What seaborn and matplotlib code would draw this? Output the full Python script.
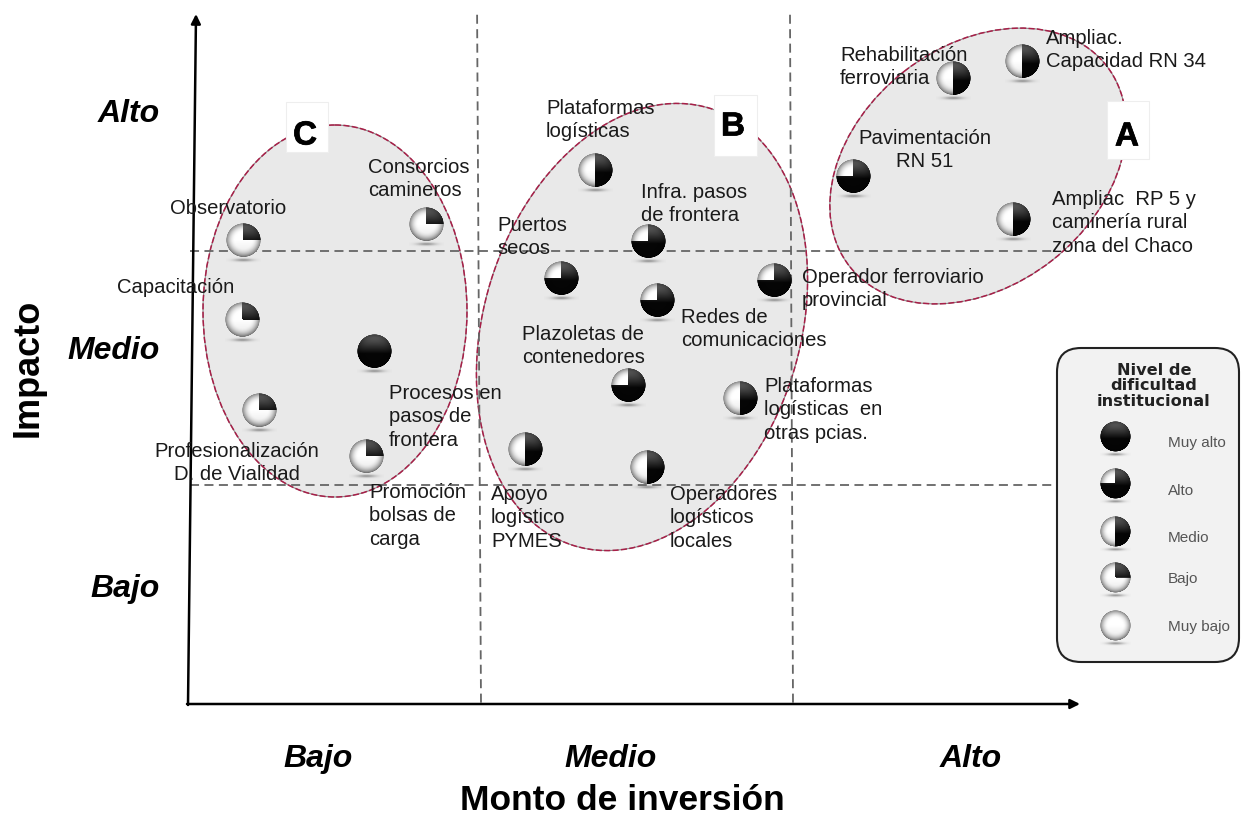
import numpy as np
import pandas as pd
import matplotlib
matplotlib.use("Agg")
import matplotlib.pyplot as plt
import matplotlib.patheffects as pe
import seaborn as sns
from matplotlib.patches import Ellipse, FancyBboxPatch, Rectangle
from matplotlib.offsetbox import OffsetImage, AnnotationBbox

# ---------- data ----------
proyectos = ["Rehabilitación ferroviaria", "Ampliac. Capacidad RN 34", "Pavimentación RN 51",
             "Ampliac RP 5 y caminería rural zona del Chaco", "Consorcios camineros", "Observatorio",
             "Capacitación", "Procesos en pasos de frontera", "Profesionalización D. de Vialidad",
             "Promoción bolsas de carga", "Plataformas logísticas", "Infra. pasos de frontera",
             "Puertos secos", "Redes de comunicaciones", "Operador ferroviario provincial",
             "Plazoletas de contenedores", "Plataformas logísticas en otras pcias.",
             "Apoyo logístico PYMES", "Operadores logísticos locales"]
inversion = [2.543, 2.773, 2.21, 2.743, 0.787, 0.177, 0.173, 0.613, 0.23, 0.587,
             1.35, 1.527, 1.237, 1.557, 1.947, 1.46, 1.833, 1.117, 1.523]
impacto = [2.782, 2.858, 2.347, 2.156, 2.133, 2.062, 1.707, 1.569, 1.307, 1.102,
           2.373, 2.058, 1.893, 1.796, 1.884, 1.418, 1.36, 1.133, 1.053]
dificultad = ["Medio", "Medio", "Alto", "Medio", "Bajo", "Bajo", "Bajo", "Muy alto", "Bajo", "Bajo",
              "Medio", "Alto", "Alto", "Alto", "Alto", "Alto", "Medio", "Medio", "Medio"]
niveles = ["Muy alto", "Alto", "Medio", "Bajo", "Muy bajo"]
fraccion_oscura = [1.0, 0.75, 0.5, 0.25, 0.0]
niveles_eje_x = ["Bajo", "Medio", "Alto"]
centros_x = [0.427, 1.403, 2.603]
niveles_eje_y = ["Bajo", "Medio", "Alto"]
centros_y = [0.529, 1.587, 2.644]
cortes_y = [0.973, 2.013]

# ---------- layout (pixels of the 1242x820 canvas) ----------
etiquetas = [
    ("Rehabilitación\nferroviaria", 840, 67, "left"),
    ("Ampliac.\nCapacidad RN 34", 1046, 50, "left"),
    ("Pavimentación\nRN 51", 925, 150, "center"),
    ("Ampliac  RP 5 y\ncaminería rural\nzona del Chaco", 1052, 223, "left"),
    ("Consorcios\ncamineros", 368, 179, "left"),
    ("Observatorio", 170, 209, "left"),
    ("Capacitación", 117, 288, "left"),
    ("Procesos en\npasos de\nfrontera", 389, 417, "left"),
    ("Profesionalización\nD. de Vialidad", 237, 463, "center"),
    ("Promoción\nbolsas de\ncarga", 369, 516, "left"),
    ("Plataformas\nlogísticas", 546, 120, "left"),
    ("Infra. pasos\nde frontera", 641, 204, "left"),
    ("Puertos\nsecos", 497, 237, "left"),
    ("Redes de\ncomunicaciones", 681, 329, "left"),
    ("Operador ferroviario\nprovincial", 802, 289, "left"),
    ("Plazoletas de\ncontenedores", 522, 346, "left"),
    ("Plataformas\nlogísticas  en\notras pcias.", 764, 410, "left"),
    ("Apoyo\nlogístico\nPYMES", 491, 518, "left"),
    ("Operadores\nlogísticos\nlocales", 670, 518, "left"),
]
W, H = 1242, 820
L, R, B, T = 190, 1078, 705, 18

sns.set_theme(style="white")
plt.rcParams["font.family"] = ["Liberation Sans", "DejaVu Sans"]

fig = plt.figure(figsize=(W / 100, H / 100), dpi=100, facecolor="white")
ax_px = fig.add_axes([0, 0, 1, 1])
ax_px.set_xlim(0, W)
ax_px.set_ylim(H, 0)
ax_px.axis("off")
px = ax_px.transData
ax = fig.add_axes([L / W, 1 - B / H, (R - L) / W, (B - T) / H], facecolor="none")
ax.set_xlim(0, (R - L) / 300)
ax.set_ylim(0, (B - T) / 225)
for s in ax.spines.values():
    s.set_visible(False)

# ---------- groups ----------
for cx, cy, w, h, ang in [(978, 167, 326, 240, -38), (642, 328, 458, 316, -72.6), (335, 312, 264, 372, 0)]:
    ax.add_patch(Ellipse((cx, cy), w, h, angle=ang, transform=px, fc="#e9e9e9", ec="#8c8c8c",
                         lw=0.8, zorder=1, clip_on=False))
    ax.add_patch(Ellipse((cx, cy), w, h, angle=ang, transform=px, fc="none", ec="#a81f48",
                         lw=1.1, ls=(0, (4, 1.5)), zorder=1.1, clip_on=False))

# ---------- dashed grid ----------
for v in cortes_y:
    ax.plot([0, 2.88], [v, v], color="#666666", lw=1.3, ls=(0, (5, 3)), zorder=2)
ax.plot([0.957, 0.97], [ax.get_ylim()[1] + 0.01, 0], color="#666666", lw=1.3, ls=(0, (5, 3)), zorder=2, clip_on=False)
ax.plot([2.0, 2.01], [ax.get_ylim()[1] + 0.01, 0], color="#666666", lw=1.3, ls=(0, (5, 3)), zorder=2, clip_on=False)

# ---------- axes arrows ----------
ax_arrow = dict(arrowstyle="-|>", color="black", lw=1.8, shrinkA=0, shrinkB=0, mutation_scale=14)
ax.annotate("", xy=(1080, 705), xytext=(187, 705), xycoords=px, textcoords=px, arrowprops=ax_arrow, zorder=3, annotation_clip=False)
ax.annotate("", xy=(196, 15), xytext=(188, 706), xycoords=px, textcoords=px, arrowprops=ax_arrow, zorder=3, annotation_clip=False)

# ---------- group letters ----------
for txt, x0, y0, x1, y1, tx, ty in [("A", 1107, 102, 1149, 160, 1127, 138), ("B", 714, 96, 757, 157, 733, 128),
                                    ("C", 286, 103, 328, 153, 305, 137)]:
    ax.add_patch(Rectangle((x0, y0), x1 - x0, y1 - y0, transform=px, fc="white", ec="#eeeeee", lw=0.8, zorder=3, clip_on=False))
    ax.text(tx, ty, txt, transform=px, ha="center", va="center", fontsize=24, fontweight="bold", color="black", zorder=4,
            path_effects=[pe.withStroke(linewidth=0.5, foreground="black")])


# ---------- sphere glyphs ----------
def esfera(frac, r=17, ss=4):
    n = int(r * ss)
    alto = int(1.4 * n)
    yy, xx = np.mgrid[-n:alto + 1, -n:n + 1].astype(float)
    xx /= n
    yy /= n
    rr = np.hypot(xx, yy)
    img = np.zeros(xx.shape + (4,))
    sh = np.exp(-(((xx) / 0.55) ** 2 + ((yy - 1.17) / 0.09) ** 2))
    img[..., :3] = 0.35
    img[..., 3] = 0.55 * sh
    mask = rr <= 1
    ang = np.mod(np.arctan2(xx, -yy), 2 * np.pi)
    dark = (ang <= frac * 2 * np.pi) & mask if frac > 0 else np.zeros_like(mask)
    if frac >= 1:
        dark = mask
    rim = np.clip((rr - 0.45) / 0.55, 0, 1) ** 2
    luz = 1 - 0.50 * rim - 0.10 * np.clip(yy, 0, 1)
    osc = np.clip(0.36 - 0.42 * (yy + 0.75) * 0.9, 0.02, 0.38) * (1 - 0.4 * rim)
    col = np.where(dark, osc, luz)
    for c in range(3):
        img[..., c] = np.where(mask, col, img[..., c])
    edge = np.clip((1 - rr) * n / 1.5, 0, 1)
    img[..., 3] = np.where(mask, edge, img[..., 3])
    return img


def poner(xy, frac, r, tr, z=6):
    box = OffsetImage(esfera(frac, r), zoom=0.25, dpi_cor=False, interpolation="antialiased")
    ab = AnnotationBbox(box, xy, xycoords=tr, frameon=False, box_alignment=(0.5, 1 - 1 / 2.4), pad=0, zorder=z, annotation_clip=False)
    ax.add_artist(ab)


df = pd.DataFrame({"proyecto": proyectos, "inversion": inversion, "impacto": impacto, "dificultad": dificultad})
paleta = dict(zip(niveles, ["#111111", "#333333", "#777777", "#bbbbbb", "#eeeeee"]))
sns.scatterplot(data=df, x="inversion", y="impacto", hue="dificultad", palette=paleta, hue_order=niveles,
                s=(2 * 15.5 * 0.72) ** 2, linewidth=0, legend=False, ax=ax, zorder=5)
frac_por_nivel = dict(zip(niveles, fraccion_oscura))
for xv, yv, nv in zip(inversion, impacto, dificultad):
    poner((xv, yv), frac_por_nivel[nv], 17, ax.transData)

# ---------- labels ----------
for txt, x, y, ha in etiquetas:
    ax.text(x, y, txt, transform=px, ha=ha, va="center", multialignment=ha, fontsize=14.6, color="#1a1a1a",
            linespacing=1.30, zorder=7, clip_on=False)

# ---------- axis labels ----------
ax.set_xticks(centros_x, niveles_eje_x, fontsize=23, fontweight="bold", fontstyle="italic", color="black")
ax.set_yticks(centros_y, niveles_eje_y, fontsize=23, fontweight="bold", fontstyle="italic", color="black")
ax.tick_params(axis="both", length=0)
ax.tick_params(axis="x", pad=28)
ax.tick_params(axis="y", pad=22)
for lab in ax.get_yticklabels():
    lab.set_ha("right")
ax.set_xlabel("Monto de inversión", fontsize=25.5, fontweight="bold", color="black")
ax.xaxis.set_label_coords((622 - L) / (R - L), -(801 - B) / (B - T), transform=ax.transAxes)
ax.xaxis.label.set_va("center")
ax.set_ylabel("Impacto", fontsize=26, fontweight="bold", color="black")
ax.yaxis.set_label_coords((28 - L) / (R - L), (B - 368) / (B - T), transform=ax.transAxes)
ax.yaxis.label.set_va("center")

# ---------- legend panel ----------
ax.add_patch(FancyBboxPatch((1057, 349), 182, 314, boxstyle="round,pad=0,rounding_size=24", transform=px,
                            fc="#f2f2f2", ec="#222222", lw=1.5, zorder=8, clip_on=False))
ax.text(1154, 386, "Nivel de\ndificultad\ninstitucional", transform=px, ha="center", va="center", fontsize=11.6,
        fontweight="bold", family="DejaVu Sans", linespacing=1.05, color="#222222", zorder=9)
for nv, fr, ys, yt in zip(niveles, fraccion_oscura, [438, 485, 533, 579, 627], [443, 491, 538, 579, 627]):
    poner((1115, ys), fr, 15, px, z=9)
    ax.text(1168, yt, nv, transform=px, ha="left", va="center", fontsize=11, color="#555555", zorder=9)

fig.savefig("out.png", dpi=100)
